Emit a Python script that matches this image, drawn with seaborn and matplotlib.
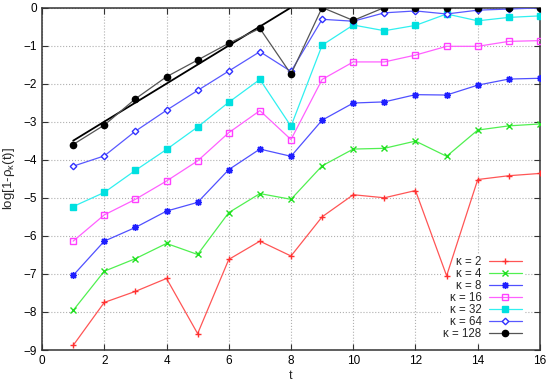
import numpy as np
import pandas as pd
import seaborn as sns
import matplotlib.pyplot as plt

t = list(range(1, 17))
k2 = [-8.88, -7.75, -7.46, -7.12, -8.57, -6.62, -6.14, -6.53, -5.50, -4.92, -5.00, -4.81, -7.05, -4.52, -4.42, -4.36]
k4 = [-7.96, -6.93, -6.60, -6.20, -6.49, -5.39, -4.89, -5.04, -4.16, -3.72, -3.70, -3.51, -3.91, -3.22, -3.11, -3.06]
k8 = [-7.04, -6.14, -5.78, -5.35, -5.12, -4.26, -3.72, -3.91, -2.96, -2.51, -2.48, -2.29, -2.30, -2.04, -1.88, -1.86]
k16 = [-6.14, -5.45, -5.04, -4.56, -4.03, -3.29, -2.71, -3.47, -1.89, -1.43, -1.43, -1.25, -1.02, -1.02, -0.89, -0.87]
k32 = [-5.23, -4.86, -4.28, -3.73, -3.14, -2.49, -1.89, -3.12, -0.99, -0.46, -0.61, -0.47, -0.17, -0.35, -0.26, -0.22]
k64 = [-4.17, -3.90, -3.25, -2.70, -2.18, -1.67, -1.16, -1.68, -0.31, -0.36, -0.14, -0.09, -0.17, -0.07, -0.04, -0.01]
k128 = [-3.60, -3.09, -2.40, -1.82, -1.38, -0.94, -0.55, -1.75, 0.0, -0.34, 0.0, 0.0, 0.0, 0.0, 0.0, 0.0]
labels = ['κ = 2', 'κ = 4', 'κ = 8', 'κ = 16', 'κ = 32', 'κ = 64', 'κ = 128']
# straight reference line
ref_t = [1, 8]
ref_y = [-3.5, 0.0]

sns.set_style('ticks')
plt.rcParams['font.family'] = ['Liberation Sans', 'DejaVu Sans']
plt.rcParams['mathtext.fontset'] = 'custom'
plt.rcParams['mathtext.rm'] = 'Liberation Sans'
plt.rcParams['mathtext.it'] = 'Liberation Sans'

fig = plt.figure(figsize=(5.5, 3.85), dpi=100)
ax = fig.add_axes([0.0764, 0.0909, 0.9054, 0.8896])

styles = [
    dict(marker='+', ms=5, mfc='#ff3030', mec='#ff3030', lc='#ff5555'),
    dict(marker='x', ms=4.5, mfc='#20e020', mec='#20e020', lc='#50f050'),
    dict(marker=(8, 2, 0), ms=5, mfc='#2020ff', mec='#2020ff', lc='#5050ff'),
    dict(marker='s', ms=5, mfc='none', mec='#ff40ff', lc='#ff60ff'),
    dict(marker='s', ms=4.5, mfc='#00e0e0', mec='#00e0e0', lc='#30f0f0'),
    dict(marker='D', ms=3.3, mfc='white', mec='#3030ff', lc='#5858ff'),
    dict(marker='o', ms=4.5, mfc='black', mec='black', lc='#555555'),
]
series = [k2, k4, k8, k16, k32, k64, k128]

sns.lineplot(x=ref_t, y=ref_y, ax=ax, color='black', lw=1.3, zorder=3)

for vals, lab, st in zip(series, labels, styles):
    sns.lineplot(x=t, y=vals, ax=ax, color=st['lc'], lw=0.9, marker=st['marker'],
                 markersize=st['ms'], markerfacecolor=st['mfc'], markeredgecolor=st['mec'],
                 markeredgewidth=1.0, label=lab, zorder=3)

ax.set_xlim(0, 16)
ax.set_ylim(-9, 0)
ax.set_xticks(range(0, 17, 2))
ax.set_yticks(range(-9, 1))
ax.grid(True, color='#b0b0b0', linestyle=':', linewidth=0.8)
ax.set_axisbelow(True)
ax.tick_params(direction='in', top=True, right=True, labelsize=8.5, length=4, width=0.8,
               colors='#333333', labelcolor='black')
for s in ax.spines.values():
    s.set_linewidth(1.1)
    s.set_color('#333333')
ax.set_xlabel('t', fontsize=9, labelpad=2)
ax.set_ylabel(r'log[1-$\rho_\kappa$(t)]', fontsize=9.5, labelpad=5)

leg = ax.legend(loc='lower right', bbox_to_anchor=(0.98, 0.005), markerfirst=False,
                fontsize=8.3, handlelength=2.9, labelspacing=0.0, handletextpad=0.6,
                borderpad=0.2, frameon=True, fancybox=False)
leg.get_frame().set_facecolor('white')
leg.get_frame().set_edgecolor('none')
leg.get_frame().set_alpha(1.0)
leg.set_zorder(2)
for txt in leg.get_texts():
    txt.set_ha('right')
leg._legend_box.align = 'right'

fig.savefig('out.png', dpi=100)
